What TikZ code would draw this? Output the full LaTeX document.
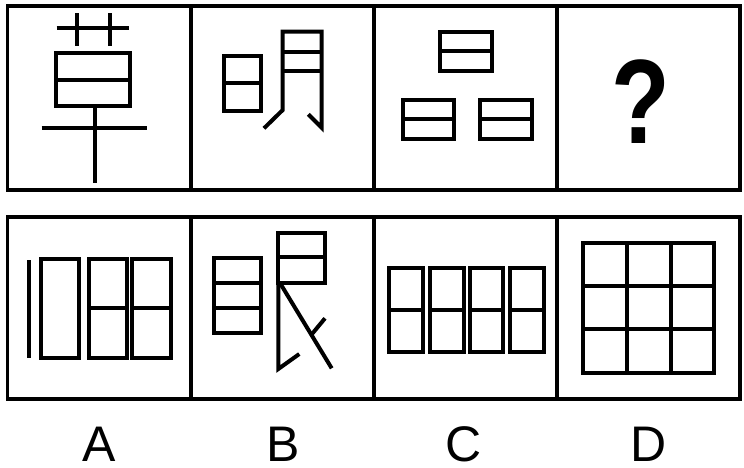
\documentclass[tikz,border=0pt]{standalone}
\usepackage{fontspec}
\setmainfont{Liberation Sans}
\begin{document}
\begin{tikzpicture}[x=1pt,y=-1pt]
\tikzset{
  frame/.style={line width=3.3pt},
  fig/.style={line width=4pt},
  lbl/.style={anchor=base, inner sep=0pt, font=\fontsize{50}{50}\selectfont},
  qmark/.style={anchor=base, inner sep=0pt, xscale=0.8, font=\fontsize{120}{120}\selectfont\bfseries}
}
\useasboundingbox (0,0) rectangle (744,468);
\fill[white] (0,0) rectangle (744,468);
% frames
\draw[frame] (7.5,6) rectangle (740,190);
\draw[frame] (191,6) -- (191,190);
\draw[frame] (374,6) -- (374,190);
\draw[frame] (557,6) -- (557,190);
\draw[frame] (7.5,217) rectangle (740,399);
\draw[frame] (191,217) -- (191,399);
\draw[frame] (374,217) -- (374,399);
\draw[frame] (557,217) -- (557,399);
% panel 1
\draw[fig] (56.7,28.3) -- (129.3,28.3);
\draw[fig] (77.3,13.3) -- (77.3,46);
\draw[fig] (110,13.3) -- (110,46);
\draw[fig] (55.7,53.3) rectangle (129.7,106);
\draw[fig] (55.7,80) -- (129.7,80);
\draw[fig] (94.7,106) -- (94.7,182.7);
\draw[fig] (41.7,128.3) -- (146.7,128.3);
% panel 2
\draw[fig] (224.3,55.7) rectangle (260.7,110.7);
\draw[fig] (224.3,83.3) -- (260.7,83.3);
\draw[fig] (264,128.3) -- (282.7,110) -- (282.7,31.7) -- (321.7,31.7) -- (321.7,127.7) -- (308.3,114.3);
\draw[fig] (282.7,52.3) -- (321.7,52.3);
\draw[fig] (282.7,70.7) -- (321.7,70.7);
% panel 3
\draw[fig] (440.3,31.7) rectangle (492,71);
\draw[fig] (440.3,51) -- (492,51);
\draw[fig] (402.7,100) rectangle (454,139.3);
\draw[fig] (402.7,119.3) -- (454,119.3);
\draw[fig] (480.3,100) rectangle (532,139.3);
\draw[fig] (480.3,119.3) -- (532,119.3);
% panel 4
\node[qmark] (q) at (640.5,143.3) {?};
% option A
\draw[fig] (29,260) -- (29,358.3);
\draw[fig] (40.7,259.3) rectangle (78.7,358.3);
\draw[fig] (89.3,259.3) rectangle (126.7,358.3);
\draw[fig] (89.3,307.7) -- (126.7,307.7);
\draw[fig] (132.3,259.3) rectangle (170.7,358.3);
\draw[fig] (132.3,307.7) -- (170.7,307.7);
% option B
\draw[fig] (214,257.7) rectangle (260.7,333.3);
\draw[fig] (214,282.7) -- (260.7,282.7);
\draw[fig] (214,308.3) -- (260.7,308.3);
\draw[fig] (278.3,233.3) rectangle (325,282.7);
\draw[fig] (278.3,257.3) -- (325,257.3);
\draw[fig] (278.3,282.7) -- (278.3,369) -- (299.3,354);
\draw[fig] (280,283) -- (331.7,368.3);
\draw[fig] (312,334) -- (325,318.3);
% option C
\foreach \xa/\xb in {389.3/422.7, 430.3/463.7, 469.7/503, 510.3/544.3}{
  \draw[fig] (\xa,268.3) rectangle (\xb,351.7);
  \draw[fig] (\xa,310) -- (\xb,310);
}
% option D
\draw[fig] (583.3,242.7) rectangle (714,373.3);
\draw[fig] (627,242.7) -- (627,373.3);
\draw[fig] (671.3,242.7) -- (671.3,373.3);
\draw[fig] (583.3,286) -- (714,286);
\draw[fig] (583.3,329.3) -- (714,329.3);
% labels
\node[lbl] (la) at (99,461) {A};
\node[lbl] (lb) at (283,461) {B};
\node[lbl] (lc) at (464,461) {C};
\node[lbl] (ld) at (649,461) {D};
\end{tikzpicture}
\end{document}
